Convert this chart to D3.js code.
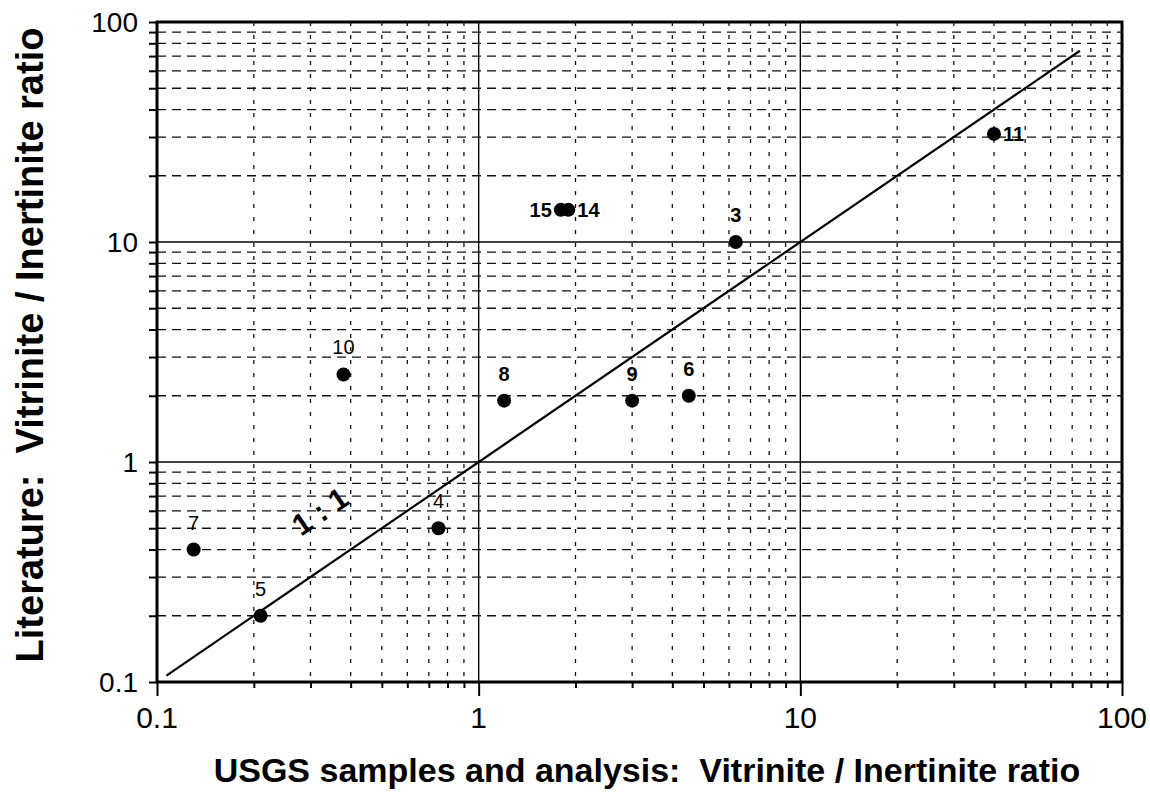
<!DOCTYPE html>
<html>
<head>
<meta charset="utf-8">
<script src="https://cdn.jsdelivr.net/npm/d3@7"></script>
<style>
  body { margin: 0; background: #fff; }
  svg { display: block; font-family: "Liberation Sans", Arial, sans-serif; }
  text { white-space: pre; }
</style>
</head>
<body>
<svg id="chart" width="1150" height="796"></svg>
<script>
// sample numbers and ratios
var sampleIds = ["7", "5", "4", "10", "8", "9", "6", "3", "15", "14", "11"];
var usgsRatio = [0.13, 0.21, 0.75, 0.38, 1.2, 3.0, 4.5, 6.3, 1.8, 1.9, 40];
var litRatio  = [0.40, 0.20, 0.50, 2.5, 1.9, 1.9, 2.0, 10, 14, 14, 31];

var tickVals = [0.1, 1, 10, 100];
var tickLabels = ["0.1", "1", "10", "100"];
var oneToOne = [0.107, 74]; // ends of 1:1 line

var svg = d3.select("#chart");
var pLeft = 157, pRight = 1122, pTop = 22, pBottom = 682;

var x = d3.scaleLog().domain([0.1, 100]).range([pLeft, pRight]);
var y = d3.scaleLog().domain([0.1, 100]).range([pBottom, pTop]);

// minor grid values 2..9 in each decade
var minor = [];
[0.1, 1, 10].forEach(function(d) {
    for (var k = 2; k <= 9; k++) minor.push(d * k);
});

var grid = svg.append("g");

// minor grid, dashed
grid.selectAll(".vmin").data(minor).enter().append("line")
    .attr("x1", function(d) { return x(d); }).attr("x2", function(d) { return x(d); })
    .attr("y1", pTop).attr("y2", pBottom)
    .attr("stroke", "#111").attr("stroke-width", 1.3)
    .attr("stroke-dasharray", "4,9");
grid.selectAll(".hmin").data(minor).enter().append("line")
    .attr("y1", function(d) { return y(d); }).attr("y2", function(d) { return y(d); })
    .attr("x1", pLeft).attr("x2", pRight)
    .attr("stroke", "#111").attr("stroke-width", 1.3)
    .attr("stroke-dasharray", "9,6");

// major grid, solid
grid.selectAll(".vmaj").data([1, 10]).enter().append("line")
    .attr("x1", function(d) { return x(d); }).attr("x2", function(d) { return x(d); })
    .attr("y1", pTop).attr("y2", pBottom)
    .attr("stroke", "#000").attr("stroke-width", 1.4);
grid.selectAll(".hmaj").data([1, 10]).enter().append("line")
    .attr("y1", function(d) { return y(d); }).attr("y2", function(d) { return y(d); })
    .attr("x1", pLeft).attr("x2", pRight)
    .attr("stroke", "#000").attr("stroke-width", 1.4);

// axes (ticks only, labels drawn separately)
var xAxis = svg.append("g").attr("transform", "translate(0," + pBottom + ")")
    .call(d3.axisBottom(x).tickValues(minor).tickSize(6).tickFormat(""));
var xAxisMaj = svg.append("g").attr("transform", "translate(0," + pBottom + ")")
    .call(d3.axisBottom(x).tickValues(tickVals).tickSize(14).tickFormat(""));
var yAxis = svg.append("g").attr("transform", "translate(" + pLeft + ",0)")
    .call(d3.axisLeft(y).tickValues(minor.concat(tickVals)).tickSize(8).tickFormat(""));
[xAxis, xAxisMaj, yAxis].forEach(function(a) {
    a.select(".domain").remove();
    a.selectAll("line").attr("stroke", "#000").attr("stroke-width", 2);
});

// frame
svg.append("rect")
    .attr("x", pLeft).attr("y", pTop)
    .attr("width", pRight - pLeft).attr("height", pBottom - pTop)
    .attr("fill", "none").attr("stroke", "#000").attr("stroke-width", 3);

// tick labels
svg.selectAll(".xlab").data(tickVals).enter().append("text")
    .attr("x", function(d) { return x(d); })
    .attr("y", 728)
    .attr("text-anchor", "middle")
    .attr("font-size", 30)
    .text(function(d, i) { return tickLabels[i]; });
svg.selectAll(".ylab").data(tickVals).enter().append("text")
    .attr("x", 138)
    .attr("y", function(d) { return y(d) + 10; })
    .attr("text-anchor", "end")
    .attr("font-size", 28)
    .text(function(d, i) { return tickLabels[i]; });

// 1:1 line
var line = d3.line()
    .x(function(d) { return x(d); })
    .y(function(d) { return y(d); });
svg.append("path")
    .attr("d", line(oneToOne))
    .attr("fill", "none").attr("stroke", "#000").attr("stroke-width", 2.2);

svg.append("text")
    .attr("transform", "translate(326,520) rotate(-34)")
    .attr("text-anchor", "middle")
    .attr("font-size", 30)
    .attr("font-weight", "bold")
    .text("1 : 1");

// points
var pts = sampleIds.map(function(id, i) {
    return { id: id, x: usgsRatio[i], y: litRatio[i] };
});
svg.selectAll(".pt").data(pts).enter().append("circle")
    .attr("cx", function(d) { return x(d.x); })
    .attr("cy", function(d) { return y(d.y); })
    .attr("r", 7)
    .attr("fill", "#000");

var boldIds = ["8", "9", "6", "3", "15", "14", "11"];
svg.selectAll(".plab").data(pts).enter().append("text")
    .attr("x", function(d) {
        if (d.id == "15") return x(d.x) - 9;
        if (d.id == "14") return x(d.x) + 9;
        if (d.id == "11") return x(d.x) + 9;
        return x(d.x);
    })
    .attr("y", function(d) {
        if (d.id == "15" || d.id == "14" || d.id == "11") return y(d.y) + 7;
        return y(d.y) - 20;
    })
    .attr("text-anchor", function(d) {
        if (d.id == "15") return "end";
        if (d.id == "14" || d.id == "11") return "start";
        return "middle";
    })
    .attr("font-size", 20)
    .attr("font-weight", function(d) { return boldIds.indexOf(d.id) >= 0 ? "bold" : "normal"; })
    .text(function(d) { return d.id; });

// axis titles
svg.append("text")
    .attr("x", 647).attr("y", 782)
    .attr("text-anchor", "middle")
    .attr("font-size", 34).attr("font-weight", "bold")
    .text("USGS samples and analysis:  Vitrinite / Inertinite ratio");
svg.append("text")
    .attr("transform", "translate(43,345) rotate(-90)")
    .attr("text-anchor", "middle")
    .attr("font-size", 38).attr("font-weight", "bold")
    .text("Literature:  Vitrinite / Inertinite ratio");
</script>
</body>
</html>
